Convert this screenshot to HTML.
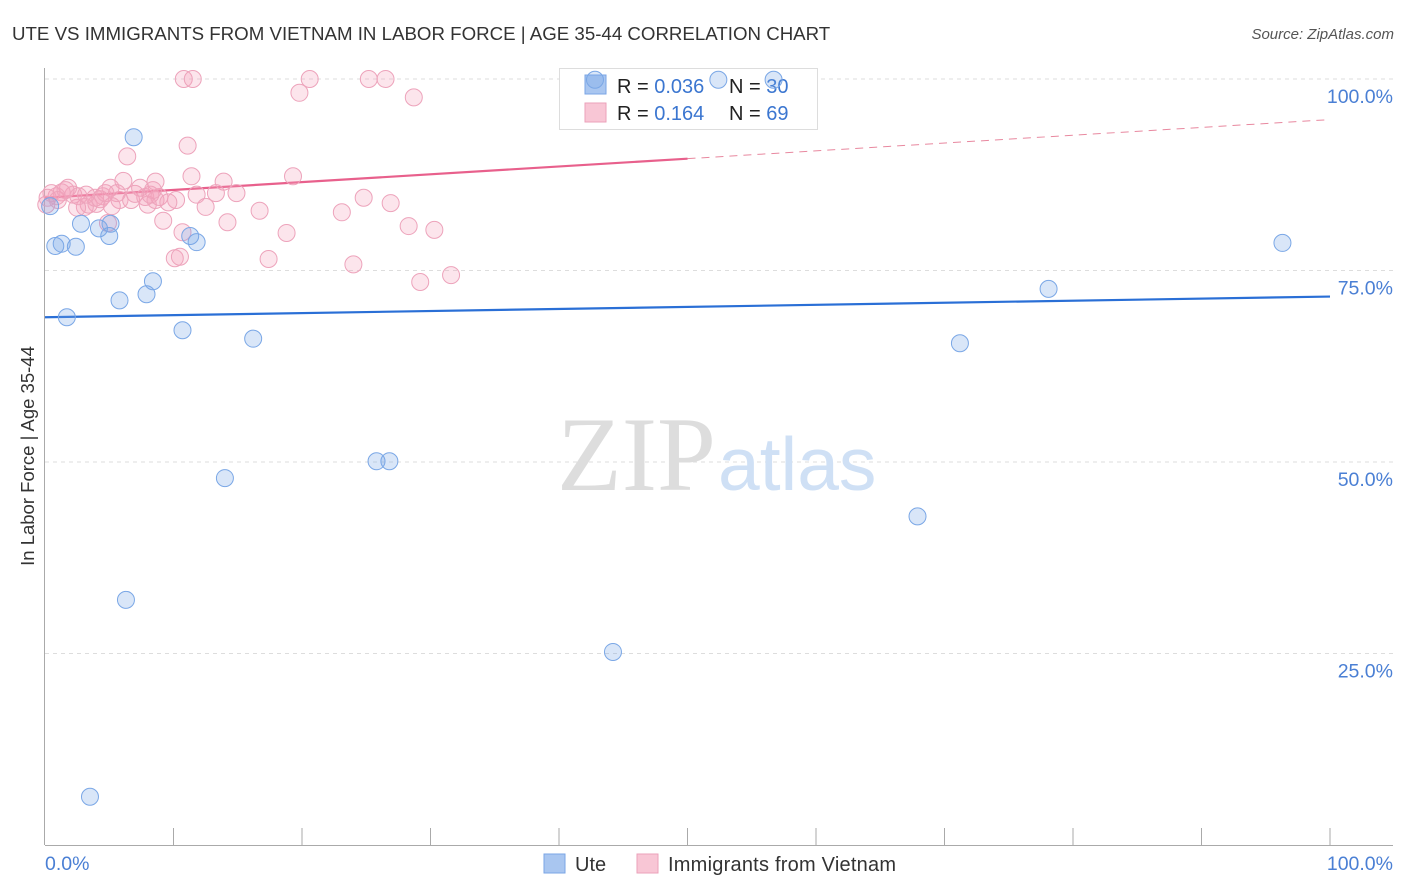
<!DOCTYPE html>
<html><head><meta charset="utf-8">
<style>
body{margin:0;background:#fff;font-family:"Liberation Sans",sans-serif;}
#wrap{position:relative;width:1406px;height:892px;overflow:hidden;}
</style></head>
<body>
<div id="wrap">
<svg id="chart" width="1406" height="892" xmlns="http://www.w3.org/2000/svg">
<text x="12" y="40" font-size="18.7" fill="#333">UTE VS IMMIGRANTS FROM VIETNAM IN LABOR FORCE | AGE 35-44 CORRELATION CHART</text>
<text x="1394" y="39" font-size="15" fill="#555" font-style="italic" text-anchor="end">Source: ZipAtlas.com</text>
<g id="grid"></g>
<text x="716" y="490" font-size="106" fill="#ddd" text-anchor="end" font-family="Liberation Serif,serif">ZIP</text>
<text x="718" y="490" font-size="75" fill="#cfe0f5">atlas</text>
<line x1="44.5" y1="68" x2="44.5" y2="845" stroke="#aaa"/>
<line x1="45" y1="845.5" x2="1393" y2="845.5" stroke="#aaa"/>
<g id="ticks"></g>
<g>
<rect x="559.5" y="68.5" width="258" height="61" fill="#fff" stroke="#ddd"/>
<rect x="585" y="75" width="21" height="19" fill="#a9c6f0" stroke="#7aa5e6"/>
<rect x="585" y="103" width="21" height="19" fill="#f8c6d5" stroke="#eba1ba"/>
<text x="617" y="93" font-size="20" fill="#222">R = <tspan fill="#3b76d0">0.036</tspan></text>
<text x="729" y="93" font-size="20" fill="#222">N = <tspan fill="#3b76d0">30</tspan></text>
<text x="617" y="120" font-size="20" fill="#222">R =  <tspan fill="#3b76d0">0.164</tspan></text>
<text x="729" y="120" font-size="20" fill="#222">N = <tspan fill="#3b76d0">69</tspan></text>
</g>
<g id="trend"></g>
<g id="pts"></g>
<g id="ylabels"></g>
<text x="45" y="870" font-size="19.5" fill="#4a7fd4">0.0%</text>
<text x="1393" y="870" font-size="19.5" fill="#4a7fd4" text-anchor="end">100.0%</text>
<text transform="translate(34,456) rotate(-90)" font-size="18.5" fill="#333" text-anchor="middle">In Labor Force | Age 35-44</text>
<g>
<rect x="544" y="854" width="21" height="19" fill="#a9c6f0" stroke="#7aa5e6"/>
<text x="575" y="871" font-size="20" fill="#333">Ute</text>
<rect x="637" y="854" width="21" height="19" fill="#f8c6d5" stroke="#eba1ba"/>
<text x="668" y="871" font-size="20" fill="#333" textLength="228">Immigrants from Vietnam</text>
</g>
</svg>
</div>
<script>
const yTicks=[25,50,75,100];
const yTickLabels=["25.0%","50.0%","75.0%","100.0%"];
const uteX=[0.4,0.8,1.3,2.4,1.7,2.8,4.2,5.0,5.1,5.8,6.9,7.9,8.4,10.7,11.3,11.8,16.2,14.0,6.3,25.8,26.8,44.2,3.5,42.8,52.4,56.7,67.9,71.2,78.1,96.3];
const uteY=[83.4,78.2,78.5,78.1,68.9,81.1,80.5,79.5,81.1,71.1,92.4,71.9,73.6,67.2,79.5,78.7,66.1,47.9,32.0,50.1,50.1,25.2,6.3,99.9,99.9,99.9,42.9,65.5,72.6,78.6];
const vnX=[10.8,11.5,20.6,19.8,25.2,26.5,28.7,6.4,11.1,11.4,8.6,19.3,13.9,24.8,26.9,23.1,16.7,28.3,30.3,18.8,10.1,10.5,17.4,24.0,29.2,31.6,14.2,11.8,13.3,14.9,12.5,9.2,8.0,10.2,6.1,5.8,7.4,7.8,6.7,5.1,4.5,4.0,3.4,3.1,2.5,2.2,1.8,1.3,0.9,0.5,0.2,1.0,1.6,2.6,3.9,4.3,5.6,4.9,5.2,8.6,8.9,9.6,7.0,8.2,10.7,8.4,3.2,4.7,0.1];
const vnY=[100,100,100,98.2,100,100,97.6,89.9,91.3,87.3,86.6,87.3,86.6,84.5,83.8,82.6,82.8,80.8,80.3,79.9,76.6,76.8,76.5,75.8,73.5,74.4,81.3,84.9,85.1,85.1,83.3,81.5,83.6,84.2,86.7,84.2,85.8,84.6,84.2,85.8,84.7,83.7,83.6,83.3,83.2,84.9,85.8,85.2,84.7,85.1,84.5,84.2,85.5,84.7,84.5,84.3,85.1,81.2,83.4,84.2,84.6,83.9,85.0,84.9,80.0,85.5,84.9,85.1,83.6];
const uteTrend=[68.9,71.6];
const vnTrend=[84.5,94.7];
const NS="http://www.w3.org/2000/svg";
const xs=v=>45+v*12.85;
const ys=v=>845-v*7.66;
function mk(tag,attrs,parent){const e=document.createElementNS(NS,tag);for(const k in attrs)e.setAttribute(k,attrs[k]);parent.appendChild(e);return e;}
const grid=document.getElementById('grid'),yl=document.getElementById('ylabels');
yTicks.forEach((t,i)=>{
 const l=mk('line',{x1:45,x2:1393,y1:ys(t),y2:ys(t),stroke:'#ddd','stroke-dasharray':'4,4'},grid);
 
 
 const tx=mk('text',{x:1393,y:ys(t)+24,'font-size':19.5,fill:'#4a7fd4','text-anchor':'end'},yl);
 tx.textContent=yTickLabels[i];
 
 
});
const tk=document.getElementById('ticks');
for(let i=1;i<=10;i++){
 const l=mk('line',{x1:xs(i*10),x2:xs(i*10),y1:828,y2:845,stroke:'#aaa'},tk);
 
 
}
const tr=document.getElementById('trend');
let a=mk('line',{x1:xs(0),y1:ys(uteTrend[0]),x2:xs(100),y2:ys(uteTrend[1]),stroke:'#2a6fd6','stroke-width':2.2},tr);


const vmid=vnTrend[0]+(vnTrend[1]-vnTrend[0])*0.5;
a=mk('line',{x1:xs(0),y1:ys(vnTrend[0]),x2:xs(50),y2:ys(vmid),stroke:'#e8608c','stroke-width':2.2},tr);


a=mk('line',{x1:xs(50),y1:ys(vmid),x2:xs(100),y2:ys(vnTrend[1]),stroke:'#e8889f','stroke-width':1,'stroke-dasharray':'8,6'},tr);


const pts=document.getElementById('pts');
vnX.forEach((x,i)=>{
 const c=mk('circle',{cx:xs(x),cy:ys(vnY[i]),r:8.5,fill:'rgba(244,160,188,0.28)',stroke:'#eda3bb','stroke-width':1},pts);
 
 
});
uteX.forEach((x,i)=>{
 const c=mk('circle',{cx:xs(x),cy:ys(uteY[i]),r:8.5,fill:'rgba(120,165,230,0.28)',stroke:'#7aa7e6','stroke-width':1},pts);
 
 
});
</script>
</body></html>
